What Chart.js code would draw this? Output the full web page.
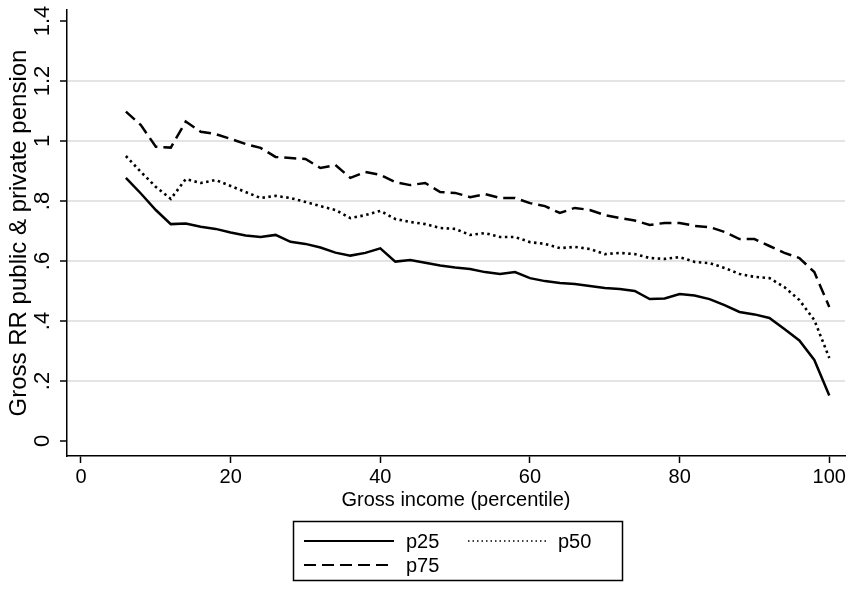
<!DOCTYPE html>
<html>
<head>
<meta charset="utf-8">
<script src="https://cdn.jsdelivr.net/npm/chart.js@4.4.1/dist/chart.umd.min.js"></script>
<style>
  html, body { margin: 0; padding: 0; background: #fff; }
  canvas { display: block; }
</style>
</head>
<body>
<canvas id="rrChart" width="861" height="604"></canvas>
<script>
// Percentiles of gross income (x) and replacement-rate quantiles (y)
const percentiles = [6, 8, 10, 12, 14, 16, 18, 20, 22, 24, 26, 28, 30, 32, 34, 36,
    38, 40, 42, 44, 46, 48, 50, 52, 54, 56, 58, 60, 62, 64, 66, 68,
    70, 72, 74, 76, 78, 80, 82, 84, 86, 88, 90, 92, 94, 96, 98, 100];

const p25 = [0.877, 0.825, 0.770, 0.723, 0.725, 0.714, 0.707, 0.695, 0.685, 0.680, 0.687, 0.664,
    0.657, 0.645, 0.628, 0.618, 0.627, 0.642, 0.598, 0.603, 0.594, 0.585, 0.578, 0.573,
    0.563, 0.557, 0.563, 0.543, 0.533, 0.527, 0.523, 0.517, 0.510, 0.507, 0.500, 0.473,
    0.475, 0.490, 0.485, 0.473, 0.453, 0.430, 0.422, 0.410, 0.373, 0.335, 0.270, 0.152];

const p50 = [0.950, 0.897, 0.847, 0.807, 0.873, 0.860, 0.870, 0.850, 0.830, 0.810, 0.817, 0.810,
    0.797, 0.783, 0.770, 0.743, 0.753, 0.767, 0.740, 0.730, 0.723, 0.710, 0.707, 0.687,
    0.693, 0.680, 0.680, 0.663, 0.657, 0.643, 0.647, 0.640, 0.623, 0.627, 0.623, 0.610,
    0.607, 0.613, 0.597, 0.593, 0.577, 0.557, 0.547, 0.543, 0.513, 0.470, 0.403, 0.277];

const p75 = [1.098, 1.053, 0.981, 0.978, 1.065, 1.031, 1.023, 1.007, 0.990, 0.977, 0.947, 0.943,
    0.940, 0.910, 0.920, 0.877, 0.897, 0.887, 0.863, 0.853, 0.860, 0.830, 0.827, 0.813,
    0.823, 0.810, 0.810, 0.793, 0.783, 0.760, 0.777, 0.770, 0.753, 0.743, 0.735, 0.720,
    0.727, 0.727, 0.717, 0.713, 0.697, 0.673, 0.673, 0.650, 0.627, 0.610, 0.563, 0.447];

const xTicks = [0, 20, 40, 60, 80, 100];
const yTicks = [0, 0.2, 0.4, 0.6, 0.8, 1, 1.2, 1.4];
const yTickLabels = ['0', '.2', '.4', '.6', '.8', '1', '1.2', '1.4'];

const seriesNames = ['p25', 'p50', 'p75'];
const FONT = '"Liberation Sans", Arial, Helvetica, sans-serif';

const toPoints = (ys) => percentiles.map((x, i) => ({ x: x, y: ys[i] }));

const lineStyle = {
    p25: { dash: [], width: 2.5 },
    p50: { dash: [2.5, 3.5], width: 2.6 },
    p75: { dash: [12, 6], width: 2.5 }
};

// y tick labels (rotated like Stata) + boxed legend under the x title
const stataExtras = {
    id: 'stataExtras',
    afterDraw(chart) {
        const ctx = chart.ctx;
        const yScale = chart.scales.y;

        ctx.save();
        ctx.fillStyle = '#000';
        ctx.font = '22px ' + FONT;
        ctx.textAlign = 'center';
        ctx.textBaseline = 'middle';
        yTicks.forEach((v, i) => {
            const py = yScale.getPixelForValue(v);
            ctx.save();
            ctx.translate(43, py);
            ctx.rotate(-Math.PI / 2);
            ctx.fillText(yTickLabels[i], 0, 0);
            ctx.restore();
        });
        ctx.restore();

        // legend box
        const box = { x: 293.5, y: 521.5, w: 329, h: 59 };
        ctx.save();
        ctx.strokeStyle = '#000';
        ctx.lineWidth = 1.5;
        ctx.strokeRect(box.x, box.y, box.w, box.h);

        const slots = [
            { x: 304, y: 541 },
            { x: 468, y: 541 },
            { x: 304, y: 565 }
        ];
        ctx.font = '20px ' + FONT;
        ctx.textAlign = 'left';
        ctx.textBaseline = 'middle';
        chart.data.datasets.forEach((ds, i) => {
            const s = slots[i];
            const len = i === 1 ? 78 : 90;
            ctx.beginPath();
            ctx.setLineDash(i === 1 ? [1.5, 3] : ds.borderDash);
            ctx.lineWidth = i === 1 ? 1.5 : 2;
            ctx.moveTo(s.x, s.y);
            ctx.lineTo(s.x + len, s.y);
            ctx.stroke();
            ctx.setLineDash([]);
            ctx.fillText(ds.label, s.x + len + 12, s.y + 1);
        });
        ctx.restore();
    }
};

const ctx = document.getElementById('rrChart').getContext('2d');
new Chart(ctx, {
    type: 'line',
    data: {
        datasets: [p25, p50, p75].map((vals, i) => ({
            label: seriesNames[i],
            data: toPoints(vals),
            borderColor: '#000',
            backgroundColor: '#000',
            borderWidth: lineStyle[seriesNames[i]].width,
            borderDash: lineStyle[seriesNames[i]].dash,
            pointRadius: 0,
            tension: 0,
            fill: false
        }))
    },
    plugins: [stataExtras],
    options: {
        responsive: false,
        animation: false,
        layout: { padding: { left: 0, right: 16, top: 10, bottom: 88 } },
        plugins: {
            legend: { display: false },
            tooltip: { enabled: false }
        },
        scales: {
            x: {
                type: 'linear',
                min: -1.87,
                max: 102.1,
                afterBuildTicks: (scale) => { scale.ticks = xTicks.map(v => ({ value: v })); },
                afterFit: (scale) => { scale.height = 60; },
                ticks: {
                    color: '#000',
                    font: { family: FONT, size: 20 },
                    padding: 2,
                    maxRotation: 0
                },
                grid: {
                    drawOnChartArea: false,
                    drawTicks: true,
                    tickLength: 7,
                    tickColor: '#000',
                    tickWidth: 1.5
                },
                border: { color: '#000', width: 1.5 },
                title: {
                    display: true,
                    text: 'Gross income (percentile)',
                    color: '#000',
                    font: { family: FONT, size: 20 },
                    padding: { top: 0, bottom: 4 }
                }
            },
            y: {
                type: 'linear',
                min: -0.05,
                max: 1.4367,
                afterBuildTicks: (scale) => { scale.ticks = yTicks.map(v => ({ value: v })); },
                afterFit: (scale) => { scale.width = 67; },
                ticks: { display: false },
                grid: {
                    color: (c) => (c.tick && (c.tick.value === 0 || c.tick.value === 1.4)) ? 'rgba(0,0,0,0)' : '#e4e4e4',
                    lineWidth: 2,
                    drawTicks: true,
                    tickLength: 7,
                    tickColor: '#000',
                    tickWidth: 1.5
                },
                border: { color: '#000', width: 1.5 },
                title: {
                    display: true,
                    text: 'Gross RR public & private pension',
                    color: '#000',
                    font: { family: FONT, size: 24 },
                    padding: { top: 5, bottom: 0 }
                }
            }
        }
    }
});
</script>
</body>
</html>
